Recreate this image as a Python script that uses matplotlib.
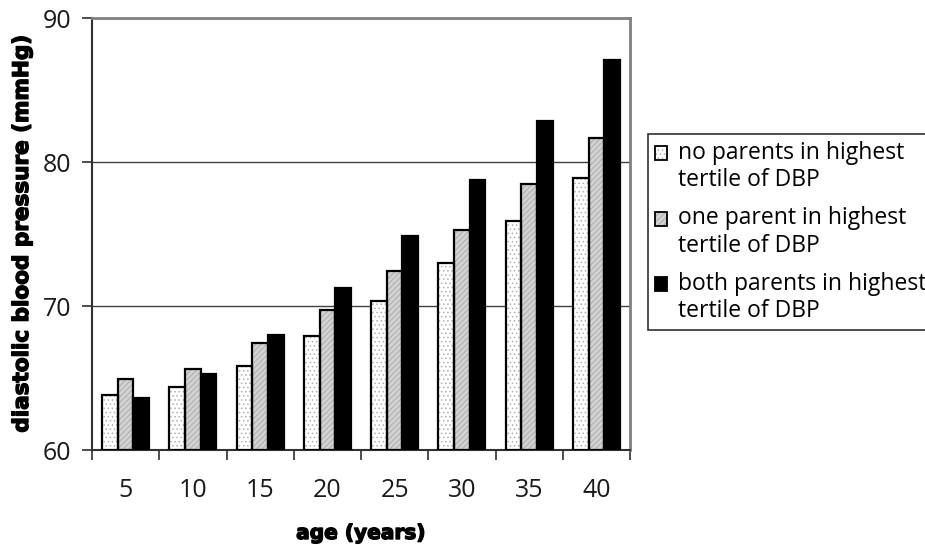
import matplotlib
matplotlib.use("Agg")
import matplotlib.pyplot as plt
import matplotlib.patheffects as pe
import numpy as np
from matplotlib.patches import Patch, Rectangle
from matplotlib.legend_handler import HandlerTuple, HandlerPatch

ages = ["5", "10", "15", "20", "25", "30", "35", "40"]
no_parents = [63.85, 64.4, 65.85, 67.9, 70.35, 73.0, 75.9, 78.9]
one_parent = [64.9, 65.6, 67.4, 69.7, 72.4, 75.3, 78.45, 81.7]
both_parents = [63.6, 65.25, 68.0, 71.25, 74.85, 78.75, 82.85, 87.05]
series_labels = ["no parents in highest\ntertile of DBP",
                 "one parent in highest\ntertile of DBP",
                 "both parents in highest\ntertile of DBP"]

plt.rcParams['font.family'] = ['Open Sans', 'DejaVu Sans']
plt.rcParams['hatch.linewidth'] = 0.6

fig = plt.figure(figsize=(9.25, 5.45), dpi=100)
ax = fig.add_axes([92/925, 1-450/545, (630-92)/925, (450-18)/545])

x = np.arange(len(ages))
w = 0.233
styles = [
    dict(face="white", hatch="....", hcol="#b0b0b0"),
    dict(face="#d2d2d2", hatch="//////", hcol="#a8a8a8"),
    dict(face="black", hatch=None, hcol="black"),
]
data = [no_parents, one_parent, both_parents]
handles = []
for i, (vals, st) in enumerate(zip(data, styles)):
    pos = x + (i - 1) * w
    bottom = 60
    heights = np.array(vals) - bottom
    ax.bar(pos, heights, w, bottom=bottom, color=st["face"], hatch=st["hatch"],
           edgecolor=st["hcol"], linewidth=0, zorder=3)
    ax.bar(pos, heights, w, bottom=bottom, fill=False, edgecolor="black",
           linewidth=1.6, zorder=4)
    h1 = Patch(facecolor=st["face"], hatch=st["hatch"], edgecolor=st["hcol"], linewidth=0)
    h2 = Patch(fill=False, edgecolor="black", linewidth=1.3)
    handles.append((h1, h2))

ax.set_ylim(60, 90)
ax.set_xlim(-0.5, len(ages) - 0.5)
ax.set_yticks([60, 70, 80, 90])
ax.yaxis.grid(True, color="#404040", linewidth=1.0, zorder=0)
ax.set_axisbelow(True)

ax.set_xticks(x)
ax.set_xticklabels(ages)
ax.set_xticks(np.arange(-0.5, len(ages), 1), minor=True)
ax.tick_params(axis="x", which="major", length=0, pad=20, labelsize=18, colors="#1a1a1a")
ax.tick_params(axis="x", which="minor", length=7, width=1.2, direction="out", color="#303030")
ax.tick_params(axis="y", length=7, width=1.2, direction="out", pad=8, labelsize=18,
               color="#303030", labelcolor="#1a1a1a")

for s in ["left", "bottom"]:
    ax.spines[s].set_color("#303030")
    ax.spines[s].set_linewidth(1.5)
for s in ["top", "right"]:
    ax.spines[s].set_color("#808080")
    ax.spines[s].set_linewidth(2)

heavy = ['DejaVu Sans']
thick = [pe.withStroke(linewidth=1.0, foreground="black")]
fig.text(361/925, 1-543/545, "age (years)", ha="center", va="bottom",
         fontsize=14.5, fontweight="bold", family=heavy, path_effects=thick)
fig.text(22/925, 1-234/545, "diastolic blood pressure (mmHg)", ha="center", va="center",
         rotation=90, fontsize=15.5, fontweight="bold", family=heavy, path_effects=thick)

FS = 16.5
def top_patch(legend, orig_handle, xdescent, ydescent, width, height, fontsize):
    return Rectangle((-xdescent, -ydescent + 0.62 * fontsize), width, height)

leg = fig.legend(handles, series_labels, loc="upper left",
                 bbox_to_anchor=(648/925, 1-134/545), fontsize=FS,
                 handler_map={tuple: HandlerTuple(ndivide=1),
                              Patch: HandlerPatch(patch_func=top_patch)},
                 frameon=True, fancybox=False, framealpha=1, edgecolor="#303030",
                 handlelength=0.55, handleheight=0.55, handletextpad=0.45,
                 labelspacing=0.6, borderpad=0.3, borderaxespad=0)
leg.get_frame().set_linewidth(1.2)

fig.savefig("out.png", dpi=100)
